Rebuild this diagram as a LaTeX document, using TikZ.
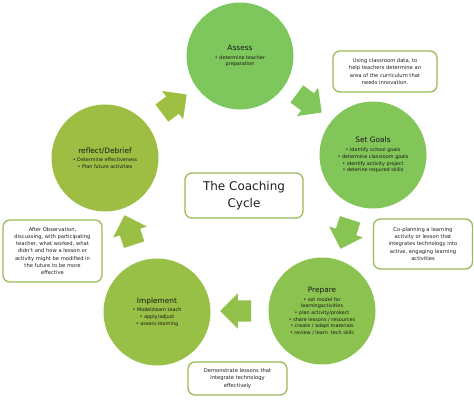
\documentclass[tikz,border=0pt]{standalone}
\usepackage{fontspec}
\setmainfont{DejaVu Sans}
\usetikzlibrary{shapes.arrows}
\definecolor{cAssess}{RGB}{125,199,92}
\definecolor{cGoals}{RGB}{130,197,88}
\definecolor{cPrep}{RGB}{140,195,80}
\definecolor{cImpl}{RGB}{152,191,70}
\definecolor{cRefl}{RGB}{157,190,66}
\definecolor{aOne}{RGB}{128,198,90}
\definecolor{aTwo}{RGB}{136,196,84}
\definecolor{aThree}{RGB}{146,193,75}
\definecolor{aFour}{RGB}{155,190,68}
\definecolor{aFive}{RGB}{158,192,66}
\definecolor{boxgreen}{RGB}{155,187,89}
\newcommand\stagetitle[1]{{\fontsize{7.4}{8.8}\selectfont #1}}
\tikzset{
  stage/.style={circle, minimum size=107pt, inner sep=0pt, align=center,
    text=black!90, font=\fontsize{4.9}{6.7}\selectfont},
  note/.style={draw=boxgreen, line width=1.3pt, rounded corners=7pt, fill=white,
    align=center, inner sep=0pt, text=black!88,
    font=\fontsize{5.2}{7.2}\selectfont},
  cyclearrow/.style={single arrow, inner xsep=0pt, inner ysep=10.5pt,
    minimum height=31pt, single arrow head extend=7pt}
}
\begin{document}
\begin{tikzpicture}[x=1pt,y=-1pt]
\useasboundingbox (0,0) rectangle (474,408);
\fill[white] (0,0) rectangle (474,408);

% stages
\node[stage, fill=cAssess] (assess) at (240,56)
  {\stagetitle{Assess}\\[2pt]• determine teacher\\preparation};
\node[stage, fill=cGoals] (goals) at (373,155)
  {\stagetitle{Set Goals}\\[2pt]• Identify school goals\\• determine classroom goals\\• identify activity project\\• deterine required skills};
\node[stage, fill=cPrep] (prep) at (322,311)
  {\stagetitle{Prepare}\\[2pt]• set model for\\learningactivities\\• plan activity/prokect\\• share lessons / resources\\• create / adapt materials\\• review / learn\ \ tech skils};
\node[stage, fill=cImpl] (impl) at (157,312)
  {\stagetitle{Implement}\\[2pt]• Model/team teach\\• apply/adjust\\• assess learning};
\node[stage, fill=cRefl] (refl) at (105,158)
  {\stagetitle{reflect/Debrief}\\[2pt]• Determine effectiveness\\• Plan future activities};

% cycle arrows
\node[cyclearrow, fill=aOne, rotate=-36.7] (a1) at (305,100) {};
\node[cyclearrow, fill=aTwo, rotate=-108] (a2) at (347,229) {};
\node[cyclearrow, fill=aThree, rotate=180] (a3) at (241,311) {};
\node[cyclearrow, fill=aFour, rotate=108] (a4) at (131,235) {};
\node[cyclearrow, fill=aFive, rotate=36.7] (a5) at (170,107) {};

% notes
\node[note, minimum width=104pt, minimum height=41pt] (ntr) at (385,71.5)
  {Using classroom data, to\\help teachers determine an\\area of the curriculum that\\needs innovation.};
\node[note, minimum width=99pt, minimum height=50pt] (nr) at (423,244)
  {Co-planning a learning\\activity or lesson that\\integrates technology into\\active, engaging learning\\activities};
\node[note, minimum width=99pt, minimum height=62pt] (nl) at (52.5,251)
  {After Observation,\\discussing, with participating\\teacher, what worked, what\\didn't and how a lesson or\\activity might be modified in\\the future to be more\\effective};
\node[note, minimum width=99pt, minimum height=33pt] (nb) at (237.5,378.5)
  {Demonstrate lessons that\\integrate technology\\effectively};
\node[note, minimum width=118pt, minimum height=45pt,
  font=\fontsize{12}{17}\selectfont] (title) at (244,195.5)
  {The Coaching\\Cycle};
\end{tikzpicture}
\end{document}
